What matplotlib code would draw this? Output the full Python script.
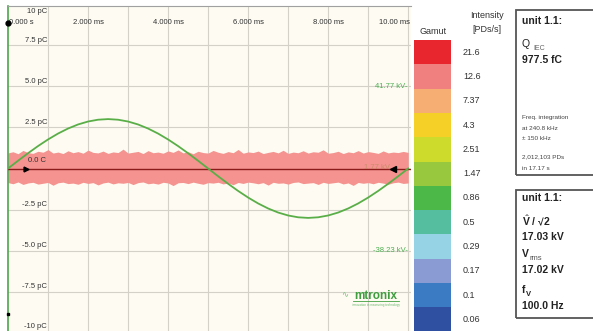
import numpy as np
import matplotlib
matplotlib.use('Agg')
import matplotlib.pyplot as plt
from matplotlib.patches import Rectangle

plt.rcParams['font.family'] = ['Liberation Sans', 'DejaVu Sans']
plt.rcParams['mathtext.fontset'] = 'custom'
plt.rcParams['mathtext.rm'] = 'Liberation Sans'
plt.rcParams['mathtext.bf'] = 'Liberation Sans:bold'

W, H = 593, 331

# voltage curve (kV), read every 0.25 ms over one 100 Hz period
t_ms = [i * 0.25 for i in range(41)]
volt_kv = [0, 3.77, 7.44, 10.93, 14.15, 17.03, 19.48, 21.46, 22.90, 23.78,
           24.08, 23.78, 22.90, 21.46, 19.48, 17.03, 14.15, 10.93, 7.44, 3.77,
           0, -3.77, -7.44, -10.93, -14.15, -17.03, -19.48, -21.46, -22.90, -23.78,
           -24.08, -23.78, -22.90, -21.46, -19.48, -17.03, -14.15, -10.93, -7.44, -3.77, 0]
KV_PER_PC = 8.0

# PD noise envelope (pC), sampled every 0.125 ms
noise_top = [0.95, 1.02, 0.90, 1.10, 0.97, 0.92, 1.05, 0.99, 1.15, 0.94,
             1.00, 0.91, 1.08, 0.96, 1.03, 0.93, 1.12, 0.98, 0.95, 1.06,
             0.92, 1.01, 0.97, 1.18, 0.94, 0.99, 1.04, 0.91, 1.09, 0.96,
             1.00, 0.93, 1.07, 0.98, 1.13, 0.95, 1.02, 0.90, 1.05, 0.97,
             0.94, 1.10, 0.99, 0.92, 1.03, 0.96, 1.16, 0.93, 1.01, 0.97,
             1.06, 0.91, 0.98, 1.04, 0.95, 1.11, 0.92, 1.00, 0.96, 1.08,
             0.94, 1.02, 0.99, 1.14, 0.93, 0.97, 1.05, 0.91, 1.01, 0.96,
             1.09, 0.94, 1.03, 0.98, 0.92, 1.07, 0.95, 1.00, 0.97, 1.04, 0.98]
noise_bot = [-0.86, -0.93, -0.82, -0.97, -0.88, -0.84, -0.95, -0.90, -0.85, -1.02,
             -0.87, -0.83, -0.92, -0.89, -0.96, -0.84, -0.91, -0.86, -1.00, -0.88,
             -0.83, -0.94, -0.87, -0.90, -0.85, -0.98, -0.86, -0.82, -0.93, -0.89,
             -0.95, -0.84, -0.88, -1.04, -0.87, -0.85, -0.92, -0.83, -0.90, -0.96,
             -0.86, -0.89, -0.84, -0.94, -0.88, -0.99, -0.85, -0.91, -0.83, -0.87,
             -0.93, -0.86, -1.01, -0.84, -0.90, -0.88, -0.95, -0.85, -0.82, -0.92,
             -0.89, -0.86, -0.97, -0.84, -0.91, -0.87, -0.83, -0.94, -0.88, -1.03,
             -0.85, -0.90, -0.86, -0.93, -0.84, -0.89, -0.96, -0.87, -0.83, -0.91, -0.88]
noise_t = [i * 0.125 for i in range(81)]

pc_ticks = [10, 7.5, 5.0, 2.5, -2.5, -5.0, -7.5, -10]
pc_labels = ['10 pC', '7.5 pC', '5.0 pC', '2.5 pC', '-2.5 pC', '-5.0 pC', '-7.5 pC', '-10 pC']
time_ticks = [2, 4, 6, 8]
time_labels = ['2.000 ms', '4.000 ms', '6.000 ms', '8.000 ms']

gamut_values = ['21.6', '12.6', '7.37', '4.3', '2.51', '1.47', '0.86', '0.5',
                '0.29', '0.17', '0.1', '0.06']
gamut_colors = ['#E8262D', '#F08080', '#F7AE73', '#F5D026', '#CCDB2C', '#98C83E',
                '#4CB848', '#55BE9E', '#96D3E5', '#8A9BD3', '#3B7BC4', '#2F4FA0']


def px(x, y):
    return x / W, 1 - y / H


fig = plt.figure(figsize=(W / 100, H / 100), dpi=100)
fig.patch.set_facecolor('white')

# main scope axes
ax = fig.add_axes([8 / W, 0, 403 / W, 325 / H])
ax.set_facecolor('#FDFBF2')
ax.set_xlim(0, 10.07)
ax.set_ylim(-9.9, 9.9)
ax.set_xticks([])
ax.set_yticks([])
for s in ['right', 'bottom']:
    ax.spines[s].set_visible(False)
ax.spines['top'].set_color('#A0A0A0')
ax.spines['top'].set_linewidth(0.8)
ax.spines['left'].set_color('#4CA64C')
ax.spines['left'].set_linewidth(1.2)

for gx in range(1, 11):
    ax.axvline(gx, color='#D3D1C8', lw=0.8, zorder=1)
for gy in [7.5, 5.0, 2.5, -2.5, -5.0, -7.5]:
    ax.axhline(gy, color='#D3D1C8', lw=0.8, zorder=1)

ax.fill_between(noise_t, noise_bot, noise_top, color='#F4938F', lw=0, zorder=2)
ax.axhline(0, color='#8B1A1A', lw=1.0, zorder=3)

volt_pc = [v / KV_PER_PC for v in volt_kv]
ax.plot(t_ms, volt_pc, color='#5AAE48', lw=1.3, zorder=4)

tc = '#333333'
for v, lab in zip(pc_ticks, pc_labels):
    if abs(v) == 10:
        yy = 9.55 if v > 0 else -9.6
        ax.text(0.98, yy, lab, ha='right', va='center', fontsize=5.5, color=tc)
    else:
        ax.text(0.98, v + 0.08, lab, ha='right', va='bottom', fontsize=5.5, color=tc)
ax.text(0.5, 0.46, '0.0 C', ha='left', va='center', fontsize=5.5, color=tc, zorder=5)

ax.text(0.03, 8.87, '0.000 s', ha='left', va='center', fontsize=5.5, color=tc)
for xv, lab in zip(time_ticks, time_labels):
    ax.text(xv, 8.87, lab, ha='center', va='center', fontsize=5.5, color=tc)
ax.text(10.05, 8.87, '10.00 ms', ha='right', va='center', fontsize=5.5, color=tc)

ax.text(9.98, 5.0, '41.77 kV-', ha='right', va='center', fontsize=5.5, color='#4CAF50')
ax.text(9.98, -5.0, '-38.23 kV-', ha='right', va='center', fontsize=5.5, color='#4CAF50')
ax.text(9.55, 0.05, '1.77 kV', ha='right', va='center', fontsize=5.5,
        color='#B08A50', alpha=0.6, zorder=5)

ax.plot([0.45], [0], marker='>', color='black', ms=3.5, zorder=6, clip_on=False)
ax.plot([9.62], [0], marker='<', color='black', ms=4, zorder=6, clip_on=False)
ax.plot([0], [8.87], marker='o', color='black', ms=3.5, zorder=6, clip_on=False)
ax.plot([0], [-8.87], marker='s', color='black', ms=2, zorder=6, clip_on=False)

# logo
ax.text(9.2, -7.75, 'mtronix', ha='center', va='center', fontsize=8.5,
        fontweight='bold', color='#3E9E3E')
ax.text(8.42, -7.75, '\u223f', ha='center', va='center', fontsize=6, color='#7CC07C')
ax.text(9.2, -8.3, 'innovation in measuring technology', ha='center', va='center',
        fontsize=2.2, color='#6CB86C')
ax.plot([8.62, 9.78], [-8.05, -8.05], color='#3E9E3E', lw=0.6)

# gamut colour bar
cb = fig.add_axes([414 / W, 0, 37 / W, (331 - 40) / H])
n = len(gamut_colors)
cb.set_xlim(0, 1)
cb.set_ylim(n - 291 / 24.3, n)
cb.bar([0.5] * n, [1] * n, bottom=[n - 1 - i for i in range(n)], width=1,
       color=gamut_colors, align='center', lw=0)
cb.axis('off')

fig.text(*px(433, 31), 'Gamut', ha='center', va='center', fontsize=6.5, color=tc)
fig.text(*px(487, 15), 'Intensity', ha='center', va='center', fontsize=6.5, color=tc)
fig.text(*px(487, 30), '[PDs/s]', ha='center', va='center', fontsize=6.5, color=tc)
for i, lab in enumerate(gamut_values):
    fig.text(*px(463, 40 + 24.3 * (i + 0.5)), lab, ha='left', va='center',
             fontsize=6.5, color=tc)

# info boxes
for y0, y1 in [(10, 175), (190, 318)]:
    fig.patches.append(Rectangle(px(516, y1), 100 / W, (y1 - y0) / H,
                                 transform=fig.transFigure, fill=False,
                                 edgecolor='#555555', lw=1.3))

bc = '#222222'
fig.text(*px(522, 21), 'unit 1.1:', ha='left', va='center', fontsize=7.5,
         fontweight='bold', color=bc)
fig.text(*px(522, 44), 'Q', ha='left', va='center', fontsize=7.5, color=bc)
fig.text(*px(533, 49), 'IEC', ha='left', va='center', fontsize=5, color='#666666')
fig.text(*px(522, 60), '977.5 fC', ha='left', va='center', fontsize=7.5,
         fontweight='bold', color=bc)
for yy, s in [(118, 'Freq. integration'), (128, 'at 240.8 kHz'), (138, '\u00b1 150 kHz'),
              (157, '2,012,103 PDs'), (168, 'in 17.17 s')]:
    fig.text(*px(522, yy), s, ha='left', va='center', fontsize=4.6, color='#444444')

fig.text(*px(522, 198), 'unit 1.1:', ha='left', va='center', fontsize=7.5,
         fontweight='bold', color=bc)
fig.text(*px(522, 221), r'$\hat{\mathbf{V}}$ / \u221a2'.replace('\\u221a', '\u221a'),
         ha='left', va='center', fontsize=7.5, fontweight='bold', color=bc)
fig.text(*px(522, 237), '17.03 kV', ha='left', va='center', fontsize=7.5,
         fontweight='bold', color=bc)
fig.text(*px(522, 254), 'V', ha='left', va='center', fontsize=7.5,
         fontweight='bold', color=bc)
fig.text(*px(530, 259), 'rms', ha='left', va='center', fontsize=5.5, color='#555555')
fig.text(*px(522, 270), '17.02 kV', ha='left', va='center', fontsize=7.5,
         fontweight='bold', color=bc)
fig.text(*px(522, 290), 'f', ha='left', va='center', fontsize=7.5,
         fontweight='bold', color=bc)
fig.text(*px(526, 295), 'V', ha='left', va='center', fontsize=5.5,
         fontweight='bold', color=bc)
fig.text(*px(522, 306), '100.0 Hz', ha='left', va='center', fontsize=7.5,
         fontweight='bold', color=bc)

fig.savefig('out.png', dpi=100)
